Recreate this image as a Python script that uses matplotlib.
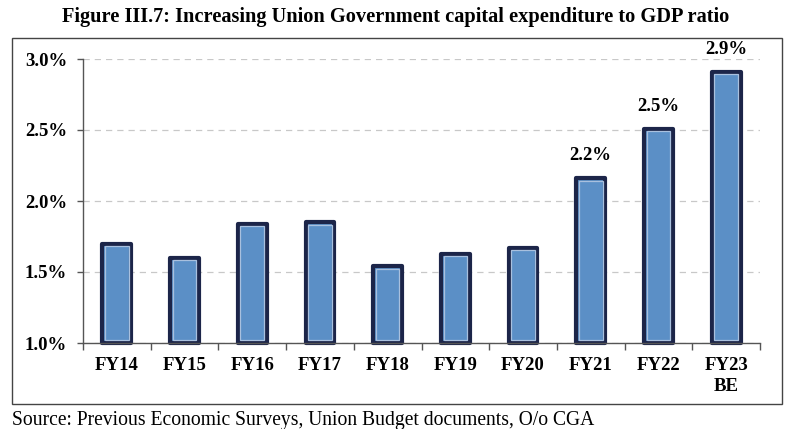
import matplotlib
matplotlib.use("Agg")
import matplotlib.pyplot as plt
from matplotlib.patches import Rectangle
import numpy as np

categories = ["FY14", "FY15", "FY16", "FY17", "FY18", "FY19", "FY20", "FY21", "FY22", "FY23\nBE"]
values = [1.70, 1.60, 1.84, 1.85, 1.54, 1.63, 1.67, 2.16, 2.51, 2.91]
labels = ["", "", "", "", "", "", "", "2.2%", "2.5%", "2.9%"]
yticks = [1.0, 1.5, 2.0, 2.5, 3.0]
ytick_labels = ["1.0%", "1.5%", "2.0%", "2.5%", "3.0%"]

title = "Figure III.7: Increasing Union Government capital expenditure to GDP ratio"
source = "Source: Previous Economic Surveys, Union Budget documents, O/o CGA"

plt.rcParams["font.family"] = ["Liberation Serif", "DejaVu Serif"]

W, H = 791, 429
fig = plt.figure(figsize=(W / 100, H / 100), dpi=100)
ax = fig.add_axes([83 / W, 1 - 343 / H, (760 - 83) / W, (343 - 59) / H])

navy = "#1c2549"
fill = "#5b8fc6"
light = "#a9c0de"
base = 1.0
bar_w = 0.425
x = np.arange(len(categories))
heights = np.array(values) - base

ax.set_ylim(1.0, 3.0)
ax.set_xlim(-0.5, len(categories) - 0.5)

# outer bars with thick navy border
ax.bar(x, heights, bottom=base, width=bar_w, color=fill, edgecolor=navy,
       linewidth=3.0, joinstyle="round", zorder=3, clip_on=False)

# inner light outline, inset inside the navy border
px_x = ax.bbox.width / (ax.get_xlim()[1] - ax.get_xlim()[0])
px_y = ax.bbox.height / (ax.get_ylim()[1] - ax.get_ylim()[0])
inset_px = 2.6
dy = inset_px / px_y
ax.bar(x, heights - 2 * dy, bottom=base + dy, width=bar_w - 2 * inset_px / px_x,
       facecolor="none", edgecolor=light, linewidth=0.9, zorder=4, clip_on=False)

for xi, v, lab in zip(x, values, labels):
    if lab:
        ax.annotate(lab, (xi, v), xytext=(0, 10), textcoords="offset points",
                    ha="center", va="bottom", fontsize=13.5, fontweight="bold", clip_on=False)

ax.set_yticks(yticks)
ax.set_yticklabels(ytick_labels, fontsize=13.5, fontweight="bold")
ax.set_xticks(x)
ax.set_xticklabels(categories, fontsize=13.5, fontweight="bold", linespacing=1.3)
ax.set_xticks(np.arange(-0.5, len(categories), 1.0), minor=True)
ax.tick_params(axis="x", which="major", length=0, pad=10)
ax.tick_params(axis="x", which="minor", length=5, width=1, color="#555555", direction="out")
ax.tick_params(axis="y", length=4, width=1, color="#555555", direction="out", pad=7.5)

for s in ["top", "right"]:
    ax.spines[s].set_visible(False)
for s in ["left", "bottom"]:
    ax.spines[s].set_color("#555555")
    ax.spines[s].set_linewidth(1)
ax.spines["bottom"].set_zorder(5)

ax.yaxis.grid(True, linestyle=(0, (5, 4)), color="#c8c8c8", linewidth=0.9, zorder=0)
ax.set_axisbelow(True)

fig.patches.append(Rectangle((12 / W, 1 - 404 / H), 770 / W, 366 / H, transform=fig.transFigure,
                             fill=False, edgecolor="#444444", linewidth=1))

fig.text(0.5, 1 - 17 / H, title, ha="center", va="center", fontsize=14.7, fontweight="bold")
fig.text(12 / W, 1 - 420 / H, source, ha="left", va="center", fontsize=14.1)

fig.savefig("out.png", dpi=100)
